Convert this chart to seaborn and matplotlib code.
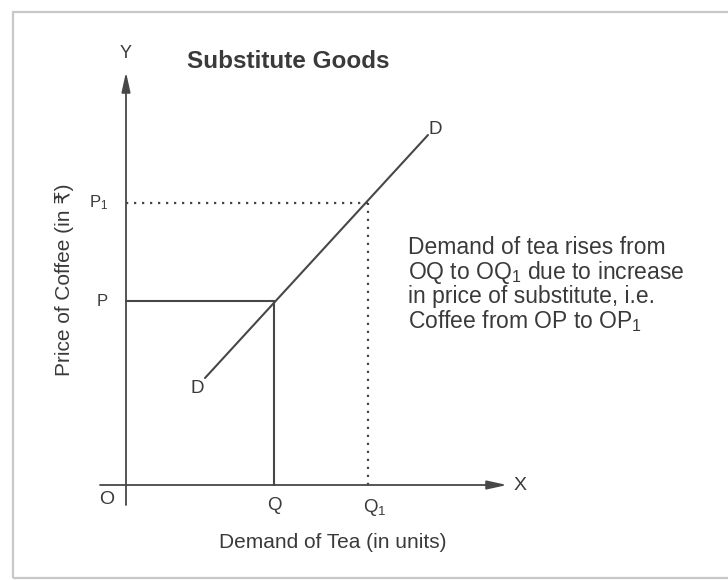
import matplotlib
matplotlib.use("Agg")
import matplotlib.pyplot as plt
from matplotlib.patches import Rectangle
import pandas as pd
import seaborn as sns

# Demand curve for tea (quantity vs. price of coffee), arbitrary units
demand_qty = [7.9, 30.2]
demand_price = [10.7, 35.0]

# Equilibrium points before and after the rise in coffee price
q_values = [14.8, 24.2]
p_values = [18.4, 28.2]
q_labels = ["Q", "Q$_1$"]
p_labels = ["P", "P$_1$"]

title_text = "Substitute Goods"
x_label = "Demand of Tea (in units)"
y_label = "Price of Coffee (in \u20b9)"
note_lines = [
    "Demand of tea rises from",
    "OQ to OQ$_1$ due to increase",
    "in price of substitute, i.e.",
    "Coffee from OP to OP$_1$",
]

sns.set_style("white")
plt.rcParams["font.family"] = ["Liberation Sans", "DejaVu Sans"]
plt.rcParams["mathtext.fontset"] = "custom"
plt.rcParams["mathtext.rm"] = "Liberation Sans"
plt.rcParams["mathtext.default"] = "regular"

ink = "#3a3a3a"
line_col = "#474747"

fig = plt.figure(figsize=(7.28, 5.8), dpi=100)
ax = fig.add_axes([0, 0, 1, 1])
ax.set_xlim(-12.6, 60.2)
ax.set_ylim(-9.5, 48.5)
ax.axis("off")

# Outer frame
fig.patches.append(Rectangle((13 / 728, 2 / 580), 1.2, 566 / 580,
                             transform=fig.transFigure, fill=False,
                             edgecolor="#c8c8c8", linewidth=1.6))

# Axes with arrowheads
arrow_kw = dict(arrowstyle="-|>,head_length=1.0,head_width=0.22",
                color=line_col, lw=1.3, shrinkA=0, shrinkB=0,
                mutation_scale=12)
ax.annotate("", xy=(38.1, 0), xytext=(-2.6, 0), arrowprops=arrow_kw)
ax.annotate("", xy=(0, 41.3), xytext=(0, -2.0), arrowprops=arrow_kw)
ax.text(38.8, 0, "X", ha="left", va="center", fontsize=14, color=ink)
ax.text(0, 42.3, "Y", ha="center", va="bottom", fontsize=13, color=ink)
ax.text(-1.9, -1.5, "O", ha="center", va="center", fontsize=14, color=ink)

# Demand curve
demand = pd.DataFrame({"qty": demand_qty, "price": demand_price})
sns.lineplot(data=demand, x="qty", y="price", ax=ax, color=line_col,
             linewidth=1.5, sort=False)
ax.text(demand_qty[0] - 0.1, demand_price[0] - 0.2, "D", ha="right",
        va="top", fontsize=13.5, color=ink)
ax.text(demand_qty[1] + 0.1, demand_price[1] - 0.3, "D", ha="left",
        va="bottom", fontsize=13.5, color=ink)

# Original position: solid guides
ax.plot([0, q_values[0]], [p_values[0], p_values[0]], color=line_col, lw=1.5)
ax.plot([q_values[0], q_values[0]], [0, p_values[0]], color=line_col, lw=1.5)
# New position: dotted guides
dot = (0, (1, 2.6))
ax.plot([0, q_values[1]], [p_values[1], p_values[1]], color=line_col,
        lw=1.6, linestyle=dot)
ax.plot([q_values[1], q_values[1]], [0, p_values[1]], color=line_col,
        lw=1.6, linestyle=dot)

for q, lab in zip(q_values, q_labels):
    offset = -0.5 if "1" in lab else 0.0
    ax.text(q + offset, -1.2, lab, ha="left" if offset else "center",
            va="top", fontsize=13.5, color=ink)
for p, lab in zip(p_values, p_labels):
    ax.text(-1.8, p, lab, ha="right", va="center", fontsize=12, color=ink)

# Titles and axis names
ax.text(6.1, 42.3, title_text, ha="left", va="center", fontsize=17.5,
        fontweight="bold", color=ink)
ax.text(20.7, -5.7, x_label, ha="center", va="center", fontsize=15,
        color=ink)
ax.text(-6.2, 20.5, y_label, ha="center", va="center", fontsize=15,
        rotation=90, color=ink)

# Explanatory note
for i, line in enumerate(note_lines):
    ax.text(28.2, 23.7 - i * 2.45, line, ha="left", va="center",
            fontsize=16.5, color=ink)

fig.savefig("out.png", dpi=100, facecolor="white")
